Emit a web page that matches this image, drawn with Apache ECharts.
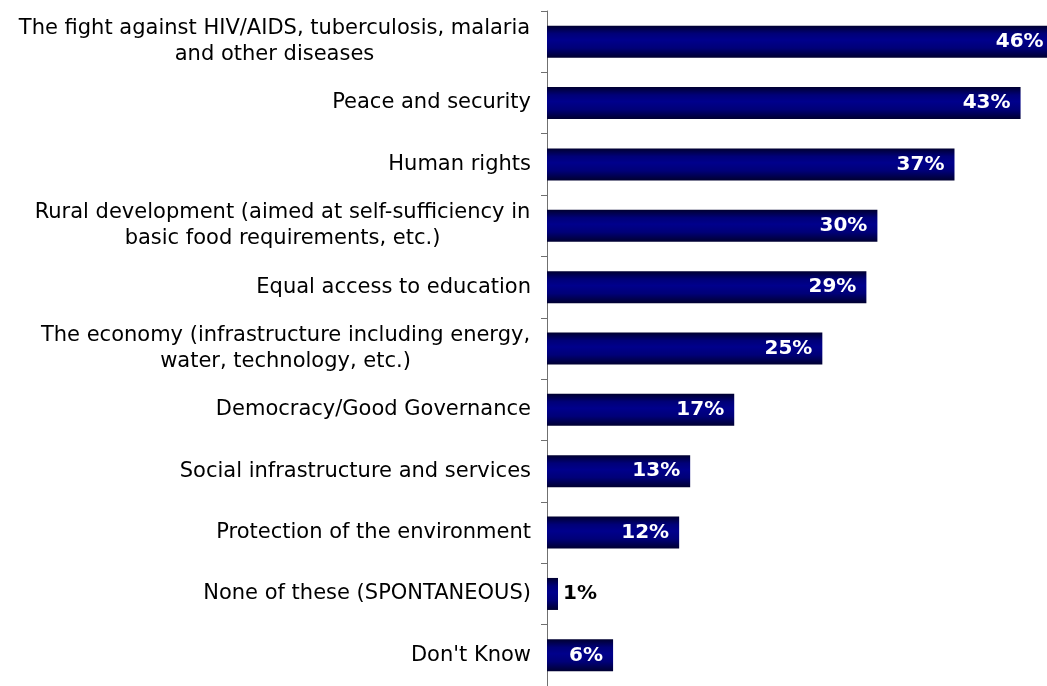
<!DOCTYPE html>
<html>
<head>
<meta charset="utf-8">
<script src="https://cdn.jsdelivr.net/npm/echarts@6/dist/echarts.min.js"></script>
<style>
html,body{margin:0;padding:0;background:#fff;}
#chart{width:1047px;height:686px;}
</style>
</head>
<body>
<div id="chart"></div>
<script>
const categories = [
  "The fight against HIV/AIDS, tuberculosis, malaria\nand other diseases",
  "Peace and security",
  "Human rights",
  "Rural development (aimed at self-sufficiency in\nbasic food requirements, etc.)",
  "Equal access to education",
  "The economy (infrastructure including energy,\nwater, technology, etc.)",
  "Democracy/Good Governance",
  "Social infrastructure and services",
  "Protection of the environment",
  "None of these (SPONTANEOUS)",
  "Don't Know"
];
const values = [46, 43, 37, 30, 29, 25, 17, 13, 12, 1, 6];

const FONT = '"DejaVu Sans", Verdana, sans-serif';
const FS = 21;
const LH = 26;
const ctx = document.createElement('canvas').getContext('2d');
ctx.font = FS + 'px ' + FONT;
const rich = {};
const labelText = categories.map((c, i) => {
  const lines = c.split('\n');
  if (lines.length === 1) return c;
  const w = Math.ceil(Math.max(...lines.map(l => ctx.measureText(l).width))) + 1;
  const key = 'w' + i;
  rich[key] = {width: w, align: 'center', fontSize: FS, fontFamily: FONT, color: '#000', lineHeight: LH};
  return lines.map(l => '{' + key + '|' + l + '}').join('\n');
});

const barColor = new echarts.graphic.LinearGradient(0, 0, 0, 1, [
  {offset: 0, color: '#000030'},
  {offset: 0.25, color: '#000078'},
  {offset: 0.45, color: '#00008c'},
  {offset: 0.7, color: '#000078'},
  {offset: 1, color: '#000030'}
]);

const chart = echarts.init(document.getElementById('chart'), null, {renderer: 'canvas'});
chart.setOption({
  animation: false,
  backgroundColor: '#fff',
  grid: {left: 547, top: 11, right: 0, height: 682},
  xAxis: {type: 'value', min: 0, max: 45.4, show: false},
  yAxis: {
    type: 'category',
    inverse: true,
    data: categories,
    axisLine: {show: true, lineStyle: {color: '#707070', width: 1}},
    axisTick: {show: true, length: 6, lineStyle: {color: '#707070'}},
    axisLabel: {
      margin: 16,
      fontSize: FS,
      fontFamily: FONT,
      color: '#000',
      lineHeight: LH,
      rich: rich,
      formatter: (v, idx) => labelText[idx]
    }
  },
  series: [{
    type: 'bar',
    clip: false,
    data: values.map(v => ({
      value: v,
      label: v < 3 ? {position: 'right', color: '#000', distance: 5} : {}
    })),
    barWidth: 32,
    itemStyle: {color: barColor},
    label: {
      show: true,
      position: 'insideRight',
      distance: 10,
      color: '#fff',
      fontWeight: 'bold',
      fontSize: 20,
      fontFamily: FONT,
      formatter: p => p.value + '%'
    }
  }]
});
</script>
</body>
</html>
